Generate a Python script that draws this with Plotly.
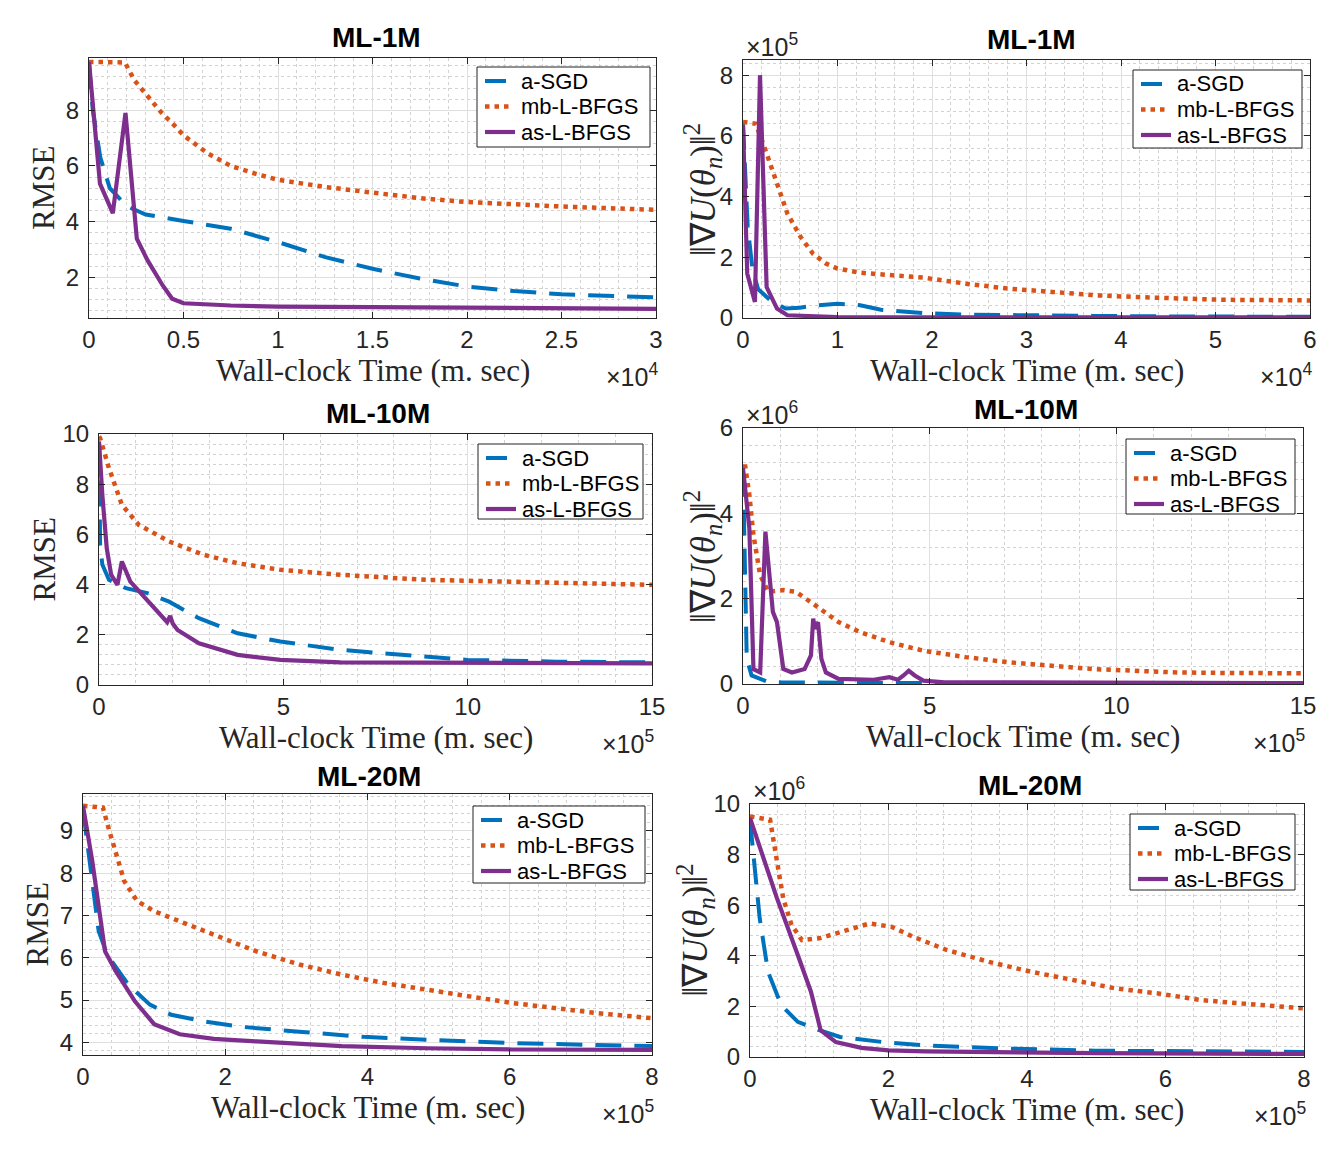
import plotly.graph_objects as go

W, H = 1336, 1152
BLUE, ORANGE, PURPLE = "#0072BD", "#D95319", "#7E2F8E"
NAMES = ["a-SGD", "mb-L-BFGS", "as-L-BFGS"]

# ---------------- data (x in units of the axis multiplier) ----------------
# Panel 1: ML-1M, RMSE vs time (x1e4 ms)
t1_sgd = [0, 0.02, 0.06, 0.11, 0.2, 0.3, 0.5, 0.75, 1.0, 1.25, 1.5, 1.75, 2.0, 2.25, 2.5, 2.75, 3.0]
r1_sgd = [9.7, 8.0, 6.3, 5.2, 4.55, 4.25, 4.02, 3.74, 3.26, 2.72, 2.3, 1.95, 1.66, 1.5, 1.38, 1.32, 1.27]
t1_mb = [0, 0.1, 0.19, 0.24, 0.31, 0.38, 0.46, 0.5, 0.63, 0.75, 0.88, 1.0, 1.25, 1.5, 1.75, 2.0, 2.25, 2.5, 3.0]
r1_mb = [9.74, 9.74, 9.72, 9.08, 8.48, 7.94, 7.4, 7.1, 6.44, 6.0, 5.72, 5.5, 5.24, 5.02, 4.84, 4.7, 4.6, 4.54, 4.42]
t1_as = [0, 0.058, 0.126, 0.193, 0.253, 0.31, 0.39, 0.44, 0.5, 0.75, 1.0, 2.0, 3.0]
r1_as = [9.74, 5.36, 4.30, 7.9, 3.38, 2.6, 1.7, 1.22, 1.06, 0.98, 0.94, 0.89, 0.86]

# Panel 2: ML-1M, gradient norm (x1e5) vs time (x1e4 ms)
t2_sgd = [0, 0.05, 0.1, 0.16, 0.29, 0.45, 0.6, 0.79, 1.0, 1.24, 1.46, 1.91, 2.36, 2.8, 3.7, 4.6, 6.0]
g2_sgd = [6.4, 3.0, 1.6, 0.95, 0.58, 0.31, 0.34, 0.42, 0.47, 0.42, 0.27, 0.16, 0.11, 0.09, 0.07, 0.05, 0.04]
t2_mb = [0, 0.135, 0.25, 0.36, 0.47, 0.61, 0.74, 0.88, 1.0, 1.24, 1.46, 1.91, 2.36, 2.8, 3.27, 3.72, 4.17, 4.62, 5.07, 6.0]
g2_mb = [6.46, 6.4, 5.42, 4.43, 3.44, 2.67, 2.12, 1.79, 1.63, 1.49, 1.44, 1.33, 1.13, 0.97, 0.86, 0.75, 0.69, 0.64, 0.6, 0.58]
t2_as = [0, 0.045, 0.126, 0.18, 0.25, 0.36, 0.47, 1.0, 2.0, 6.0]
g2_as = [6.35, 1.46, 0.53, 8.0, 1.02, 0.31, 0.09, 0.03, 0.02, 0.02]

# Panel 3: ML-10M, RMSE vs time (x1e5 ms)
t3_sgd = [0, 0.01, 0.03, 0.09, 0.27, 0.73, 1.31, 1.9, 2.71, 3.76, 4.92, 6.55, 8.87, 10.0, 12.4, 15]
r3_sgd = [9.7, 7.5, 5.6, 4.8, 4.19, 3.86, 3.66, 3.32, 2.66, 2.06, 1.73, 1.4, 1.13, 1.0, 0.93, 0.9]
t3_mb = [0, 0.03, 0.27, 0.62, 1.08, 1.9, 2.83, 3.76, 4.92, 6.55, 8.87, 10.0, 12.4, 15]
r3_mb = [9.9, 9.84, 8.64, 7.18, 6.38, 5.72, 5.19, 4.85, 4.59, 4.39, 4.19, 4.15, 4.06, 3.99]
t3_as = [0, 0.09, 0.21, 0.33, 0.5, 0.62, 0.85, 1.31, 1.78, 1.85, 1.93, 2.0, 2.13, 2.71, 3.76, 4.92, 6.55, 15]
r3_as = [9.7, 7.58, 5.45, 4.39, 3.99, 4.92, 4.12, 3.39, 2.66, 2.5, 2.75, 2.45, 2.19, 1.66, 1.2, 1.0, 0.9, 0.86]

# Panel 4: ML-10M, gradient norm (x1e6) vs time (x1e5 ms)
t4_sgd = [0, 0.05, 0.1, 0.23, 0.63, 1.0, 2.0, 5.0, 10, 15]
g4_sgd = [5.0, 2.5, 0.6, 0.2, 0.06, 0.04, 0.03, 0.02, 0.01, 0.01]
t4_mb = [0, 0.06, 0.17, 0.28, 0.46, 0.68, 1.08, 1.42, 1.88, 2.56, 3.13, 3.92, 4.83, 5.97, 7.1, 8.25, 9.39, 10.5, 11.66, 12.8, 15]
g4_mb = [5.1, 5.1, 4.43, 3.49, 2.55, 2.16, 2.2, 2.16, 1.88, 1.45, 1.22, 0.98, 0.78, 0.63, 0.51, 0.42, 0.35, 0.31, 0.27, 0.26, 0.25]
t4_as = [0, 0.17, 0.28, 0.46, 0.6, 0.68, 0.8, 0.91, 1.08, 1.31, 1.5, 1.65, 1.82, 1.88, 1.93, 2.01, 2.1, 2.22,
         2.56, 3.13, 3.5, 3.92, 4.15, 4.3, 4.44, 4.6, 4.83, 5.4, 8, 15]
g4_as = [5.06, 3.65, 0.35, 0.27, 3.57, 2.7, 1.69, 1.45, 0.35, 0.27, 0.32, 0.35, 0.67, 1.53, 1.29, 1.45, 0.59, 0.27,
         0.12, 0.12, 0.1, 0.16, 0.1, 0.2, 0.31, 0.2, 0.08, 0.04, 0.03, 0.02]

# Panel 5: ML-20M, RMSE vs time (x1e5 ms)
t5_sgd = [0, 0.07, 0.22, 0.34, 0.64, 0.94, 1.24, 1.72, 2.2, 3.04, 3.94, 4.84, 6.03, 8]
r5_sgd = [9.5, 8.53, 6.63, 6.07, 5.36, 4.89, 4.65, 4.49, 4.37, 4.25, 4.13, 4.06, 3.98, 3.91]
t5_mb = [0, 0.28, 0.37, 0.46, 0.58, 0.76, 1.0, 1.36, 1.84, 2.44, 3.04, 3.64, 4.24, 4.84, 5.43, 6.03, 6.63, 7.23, 8]
r5_mb = [9.59, 9.55, 9.0, 8.45, 7.81, 7.34, 7.1, 6.86, 6.55, 6.15, 5.84, 5.6, 5.4, 5.24, 5.08, 4.93, 4.81, 4.69, 4.57]
t5_as = [0, 0.13, 0.31, 0.46, 0.73, 1.0, 1.36, 1.84, 2.44, 3.64, 4.84, 6.03, 8]
r5_as = [9.59, 8.29, 6.15, 5.68, 4.97, 4.43, 4.19, 4.08, 4.02, 3.91, 3.86, 3.83, 3.82]

# Panel 6: ML-20M, gradient norm (x1e6) vs time (x1e5 ms)
t6_sgd = [0, 0.08, 0.14, 0.26, 0.45, 0.69, 1.0, 1.3, 1.92, 2.53, 3.75, 4.98, 6.2, 8]
g6_sgd = [9.38, 7.2, 5.48, 3.37, 2.05, 1.39, 1.06, 0.79, 0.59, 0.46, 0.33, 0.25, 0.22, 0.2]
t6_mb = [0, 0.29, 0.39, 0.48, 0.6, 0.75, 1.0, 1.3, 1.73, 2.04, 2.35, 2.84, 3.45, 4.06, 4.67, 5.28, 5.9, 6.51, 7.12, 8]
g6_mb = [9.51, 9.38, 7.73, 6.27, 5.22, 4.62, 4.69, 4.95, 5.28, 5.15, 4.76, 4.23, 3.76, 3.37, 3.04, 2.71, 2.51, 2.25, 2.11, 1.92]
t6_as = [0, 0.39, 0.69, 0.88, 1.02, 1.24, 1.61, 2.0, 2.53, 3.75, 4.98, 8]
g6_as = [9.45, 6.27, 4.03, 2.58, 1.06, 0.59, 0.36, 0.26, 0.22, 0.17, 0.15, 0.12]

titles = ["ML-1M", "ML-1M", "ML-10M", "ML-10M", "ML-20M", "ML-20M"]
x_exp = ["4", "4", "5", "5", "5", "5"]
y_exp = [None, "5", None, "6", None, "6"]

# ---------------- layout geometry (pixels) ----------------
boxes = [(89, 656, 58, 318), (743, 1310, 60, 318),
         (99, 652, 434, 685), (743, 1303, 428, 684),
         (83, 652, 794, 1055), (750, 1304, 804, 1057)]
xranges = [[0, 3], [0, 6], [0, 15], [0, 15], [0, 8], [0, 8]]
yranges = [[0.53, 9.88], [0, 8.5], [0, 10], [0, 6], [3.7, 9.87], [0, 10]]
xdt = [0.5, 1, 5, 5, 2, 2]
ydt = [2, 2, 2, 2, 1, 2]
y0tick = [2, 0, 0, 0, 4, 0]
legend_boxes = [(477, 67, 650, 147), (1133, 70, 1302, 148), (478, 444, 643, 519),
                (1126, 439, 1295, 514), (473, 806, 645, 883), (1130, 814, 1295, 890)]
title_pos = [(376, 37), (1031, 40), (378, 413), (1026, 409), (369, 776), (1030, 785)]
ytitle_x = [44, 702, 44, 702, 37, 695]

data = [
    ((t1_sgd, r1_sgd), (t1_mb, r1_mb), (t1_as, r1_as)),
    ((t2_sgd, g2_sgd), (t2_mb, g2_mb), (t2_as, g2_as)),
    ((t3_sgd, r3_sgd), (t3_mb, r3_mb), (t3_as, r3_as)),
    ((t4_sgd, g4_sgd), (t4_mb, g4_mb), (t4_as, g4_as)),
    ((t5_sgd, r5_sgd), (t5_mb, r5_mb), (t5_as, r5_as)),
    ((t6_sgd, g6_sgd), (t6_mb, g6_mb), (t6_as, g6_as)),
]

SANS = "Liberation Sans, Arial, sans-serif"
SERIF = "Liberation Serif, Times New Roman, serif"
TXT = "#262626"

def px(x):
    return x / W

def py(y):
    return 1 - y / H

fig = go.Figure()
styles = [dict(color=BLUE, width=4, dash="26px,13px"),
          dict(color=ORANGE, width=4.5, dash="4.5px,5px"),
          dict(color=PURPLE, width=4.2)]
sample_len = [21, 26, 30]

layout = dict(width=W, height=H, margin=dict(l=0, r=0, t=0, b=0, autoexpand=False),
              paper_bgcolor="white", plot_bgcolor="white", showlegend=False)
annotations = []
shapes = []

for i in range(6):
    k = "" if i == 0 else str(i + 1)
    L, R, T, B = boxes[i]
    for j, (xs, ys) in enumerate(data[i]):
        fig.add_trace(go.Scatter(x=xs, y=ys, mode="lines", name=NAMES[j], line=styles[j],
                                 xaxis="x" + k, yaxis="y" + k, showlegend=False,
                                 hoverinfo="skip"))
    common = dict(showline=True, linecolor=TXT, linewidth=1, mirror="ticks",
                  ticks="inside", ticklen=6, tickcolor=TXT, tickwidth=1, automargin=False,
                  showgrid=True, gridcolor="#dfdfdf", gridwidth=1, zeroline=False,
                  tickfont=dict(family=SANS, size=24, color=TXT), tickmode="linear")
    layout["xaxis" + k] = dict(common, domain=[px(L), px(R)], range=xranges[i], anchor="y" + k,
                               tick0=0, dtick=xdt[i], ticklabelstandoff=0,
                               minor=dict(dtick=xdt[i] / 5, showgrid=True, gridcolor="#d2d2d2",
                                          griddash="dot", gridwidth=1, ticks=""))
    layout["yaxis" + k] = dict(common, domain=[py(B), py(T)], range=yranges[i], anchor="x" + k,
                               tick0=y0tick[i], dtick=ydt[i], ticklabelstandoff=4,
                               minor=dict(dtick=ydt[i] / 5, showgrid=True, gridcolor="#d2d2d2",
                                          griddash="dot", gridwidth=1, ticks=""))
    # legend box (drawn by hand to match the compact MATLAB legend)
    bl, bt, br, bb = legend_boxes[i]
    shapes.append(dict(type="rect", xref="paper", yref="paper", x0=px(bl), x1=px(br), y0=py(bb), y1=py(bt),
                       line=dict(color="#222222", width=1), fillcolor="white", layer="above"))
    rows = [bt + 14, bt + 39.5, bt + 65]
    for j in range(3):
        st = dict(styles[j])
        if j == 0:
            st.pop("dash")
        shapes.append(dict(type="line", xref="paper", yref="paper", x0=px(bl + 8), x1=px(bl + 8 + sample_len[j]),
                           y0=py(rows[j]), y1=py(rows[j]), line=st, layer="above"))
        annotations.append(dict(text=NAMES[j], x=px(bl + 42), y=py(rows[j]), xref="paper", yref="paper",
                                showarrow=False, xanchor="left", yanchor="middle",
                                font=dict(family=SANS, size=22, color="black")))
    # title
    tx, ty = title_pos[i]
    annotations.append(dict(text="<b>" + titles[i] + "</b>", x=px(tx), y=py(ty), xref="paper", yref="paper",
                            showarrow=False, xanchor="center", yanchor="middle",
                            font=dict(family=SANS, size=28, color="black")))
    # x-axis title
    annotations.append(dict(text="Wall-clock Time (m. sec)", x=px((L + R) / 2), y=py(B + 52),
                            xref="paper", yref="paper", showarrow=False, xanchor="center", yanchor="middle",
                            font=dict(family=SERIF, size=31, color=TXT)))
    # y-axis title
    if i % 2 == 0:
        ytxt = "RMSE"
        ysz = 31
    else:
        ytxt = "‖∇<i>U</i>(<i>θ</i><sub><i>n</i></sub>)‖<sup>2</sup>"
        ysz = 35
    annotations.append(dict(text=ytxt, x=px(ytitle_x[i]), y=py((T + B) / 2), xref="paper", yref="paper",
                            showarrow=False, xanchor="center", yanchor="middle", textangle=-90,
                            font=dict(family=SERIF, size=ysz, color=TXT)))
    # x exponent
    annotations.append(dict(text="×10<sup>" + x_exp[i] + "</sup>", x=px(R + 4), y=py(B + 57),
                            xref="paper", yref="paper", showarrow=False, xanchor="right", yanchor="middle",
                            font=dict(family=SANS, size=25, color=TXT)))
    if y_exp[i]:
        annotations.append(dict(text="×10<sup>" + y_exp[i] + "</sup>", x=px(L + 1), y=py(T - 15),
                                xref="paper", yref="paper", showarrow=False, xanchor="left", yanchor="middle",
                                font=dict(family=SANS, size=25, color=TXT)))

layout["annotations"] = annotations
layout["shapes"] = shapes
fig.update_layout(**layout)
fig.write_html("out.html")
